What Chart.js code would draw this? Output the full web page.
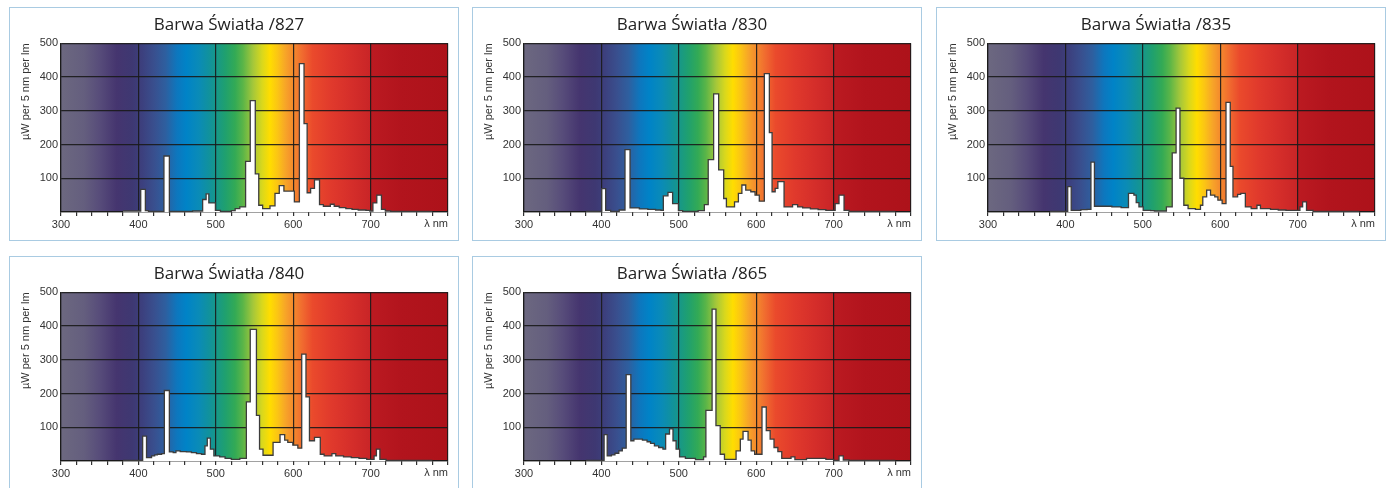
<!DOCTYPE html>
<html>
<head>
<meta charset="utf-8">
<script src="https://cdn.jsdelivr.net/npm/chart.js@4.4.0/dist/chart.umd.min.js"></script>
<style>
html,body{margin:0;padding:0;background:#fff;}
body{width:1391px;height:488px;position:relative;overflow:hidden;}
.panel{position:absolute;width:450px;height:234px;box-sizing:border-box;border:1px solid #a9cbe2;background:#fff;}
.panel canvas{position:absolute;left:0;top:0;}
</style>
</head>
<body>
<div class="panel" style="left:9px;top:7px"><canvas id="c0" width="448" height="232"></canvas></div>
<div class="panel" style="left:472px;top:7px"><canvas id="c1" width="448" height="232"></canvas></div>
<div class="panel" style="left:936px;top:7px"><canvas id="c2" width="448" height="232"></canvas></div>
<div class="panel" style="left:9px;top:256px"><canvas id="c3" width="448" height="232"></canvas></div>
<div class="panel" style="left:472px;top:256px"><canvas id="c4" width="448" height="232"></canvas></div>
<script>
// ---- DATA ----
const panelTitles = ['Barwa Światła /827','Barwa Światła /830','Barwa Światła /835','Barwa Światła /840','Barwa Światła /865'];
const xTickLabels = [300,400,500,600,700];
const yTickLabels = [100,200,300,400,500];
const xAxisTitle = 'λ nm';
const yAxisTitle = 'µW per 5 nm per lm';

// wavelength (nm) where each level starts, and the level (µW per 5 nm per lm)
const wl827 = [380,403,409,413,433,440,470,483,487.5,491,499.5,506,520,525,531,538.5,544.5,551,555.5,560.5,570,576.5,582,588,601.5,608,614,618,622.5,627.5,634,639,648,653,659.5,668,676,684,694,699,703,708,714,719,726,779];
const val827 = [3,67,4,2,166,2,3,37,54,27,5,2,4,10,15,150,330,113,20,10,18,55,78,62,30,440,262,57,70,95,22,17,23,17,13,10,8,6,5,3,27,50,8,3,2,0];

const wl830 = [380,400.5,405.5,412,423,430.5,437,449,460,470,477,480,486,492,499.5,505,525,533,538,545,551.5,558,561.5,572,577,581.5,586.5,593,598.5,604,610.5,617,620.5,624.5,628,636,647,653.5,660,670,680,690,702,707,713.5,720,779];
const val830 = [2,69,5,2,6,185,12,9,8,6,5,48,58,25,4,2,4,22,155,350,125,40,15,30,55,80,65,60,50,32,410,235,60,70,90,15,22,15,12,9,7,5,25,50,5,2,0];

const wl835 = [380,403,407.5,420,428,433,437.5,460,472,481.5,488.5,491.5,495,500.5,510,515,530.5,538,543,548,553,558.5,568,574.5,577.5,582.5,587.5,593,597,602.5,607.5,613,616.5,622.5,626.5,632.5,640,647.5,652,665,675,685,703,706.5,711.5,720,779];
const val835 = [2,75,5,7,8,148,17,15,13,55,50,28,15,5,4,3,15,175,308,100,20,10,8,20,45,65,50,45,35,25,325,135,45,52,55,15,10,20,10,8,6,5,15,30,5,2,0];

const wl840 = [380,405.5,410.5,417,421,424.5,430,433.5,440,445,448.5,454,462,468.5,475,481.5,486,489,493,497.5,505,512,520,531,539.5,544.5,552.5,556.5,561,574,583,589,593,599.5,606,611,616.5,621,627.5,635,640,650,655,665,675,685,695,704.5,707.5,712,720,779];
const val840 = [2,74,10,15,18,20,22,209,27,25,30,28,27,25,22,20,45,68,35,15,12,8,5,8,175,390,135,35,17,55,78,62,55,47,38,317,190,60,70,20,15,22,15,12,10,8,5,15,35,5,2,0];

const wl865 = [380,403.5,407.5,413,417.5,422.5,427,432,438,442,453,459,463.5,468.5,474,479.5,483,488,492.5,496.5,501,508.5,521.5,532,535,543,548,553.5,559,574,579.5,583,589.5,593.5,598,607.5,613,618,623,628,633,645,650,665,690,700,707,712.5,720,779];
const val865 = [2,78,15,18,23,30,38,256,60,65,62,57,52,45,40,35,80,95,60,35,12,8,4,12,150,450,105,20,5,30,65,88,62,30,20,160,90,65,40,28,8,12,4,8,5,2,15,3,2,0];

const spectra = [[wl827,val827],[wl830,val830],[wl835,val835],[wl840,val840],[wl865,val865]];

// ---- STYLE ----
const gradStops = [
  [300,'#6c6880'],[330,'#645e7e'],[350,'#574c7a'],[372,'#45356f'],[392,'#3e3872'],
  [405,'#3c407e'],[420,'#394f8e'],[435,'#2e5f9f'],[450,'#0d77be'],[462,'#0083c7'],
  [478,'#0a8bb7'],[490,'#10919f'],[500,'#17978a'],[512,'#1fa06f'],[525,'#33aa55'],
  [535,'#5ab548'],[548,'#a4c73a'],[560,'#dad81c'],[570,'#ffdd00'],[580,'#fbc415'],
  [590,'#f7a528'],[600,'#f48a2d'],[612,'#f06a2f'],[625,'#ea4a2c'],[650,'#e0392c'],
  [675,'#d52e2a'],[699,'#c92527'],[701,'#bb1a21'],[740,'#b2141d'],[800,'#ad121a']
];
const gridColor = 'rgba(25,25,25,0.9)';
const textColor = '#333';
const tickFont = {family:"'Liberation Sans', Arial, sans-serif", size:11};

const spectrumBg = {
  id:'spectrumBg',
  beforeDraw(chart){
    const {ctx, chartArea:a, scales:{x}} = chart;
    const g = ctx.createLinearGradient(a.left,0,a.right,0);
    gradStops.forEach(([w,c]) => {
      const f = (x.getPixelForValue(w)-a.left)/(a.right-a.left);
      g.addColorStop(Math.min(1,Math.max(0,f)), c);
    });
    ctx.save();
    ctx.fillStyle = g;
    ctx.fillRect(a.left,a.top,a.right-a.left,a.bottom-a.top);
    ctx.restore();
  }
};

spectra.forEach(([wl,val],i) => {
  new Chart(document.getElementById('c'+i), {
    type:'line',
    data:{datasets:[{
      data: wl.map((w,k)=>({x:w,y:val[k]})),
      stepped:true,
      fill:'origin',
      backgroundColor:'#ffffff',
      borderColor:'#3c3c3c',
      borderWidth:1.3,
      pointRadius:0,
      pointHoverRadius:0
    }]},
    options:{
      responsive:false,
      animation:false,
      devicePixelRatio:1,
      layout:{padding:{left:0,right:10,top:0,bottom:0}},
      plugins:{
        legend:{display:false},
        tooltip:{enabled:false},
        title:{display:true,text:panelTitles[i],color:'#222',
          font:{family:"'Open Sans', sans-serif",size:17,weight:'normal'},
          padding:{top:6.5,bottom:8.4}}
      },
      scales:{
        x:{type:'linear',min:300,max:800,
          afterFit(s){s.height=28;},
          border:{display:true,color:gridColor,width:1.2},
          grid:{color:c=>(c.tick && c.tick.value%100===0)?gridColor:'rgba(0,0,0,0)',
            lineWidth:1.2,drawTicks:true,tickLength:4,tickColor:gridColor},
          ticks:{stepSize:20,autoSkip:false,maxRotation:0,padding:2,color:textColor,font:tickFont,
            callback:v=>xTickLabels.includes(v)?String(v):''},
          title:{display:true,text:xAxisTitle,align:'end',color:textColor,font:tickFont,
            padding:{top:0,bottom:9}}
        },
        y:{min:0,max:500,
          afterFit(s){s.width=51;},
          border:{display:true,color:gridColor,width:1.2},
          grid:{color:gridColor,lineWidth:1.2,drawTicks:false},
          ticks:{stepSize:100,padding:3,color:textColor,font:tickFont,
            callback:v=>yTickLabels.includes(v)?String(v):''},
          title:{display:true,text:yAxisTitle,align:'end',color:textColor,font:tickFont,
            padding:{top:9,bottom:0}}
        }
      }
    },
    plugins:[spectrumBg]
  });
});
</script>
</body>
</html>
